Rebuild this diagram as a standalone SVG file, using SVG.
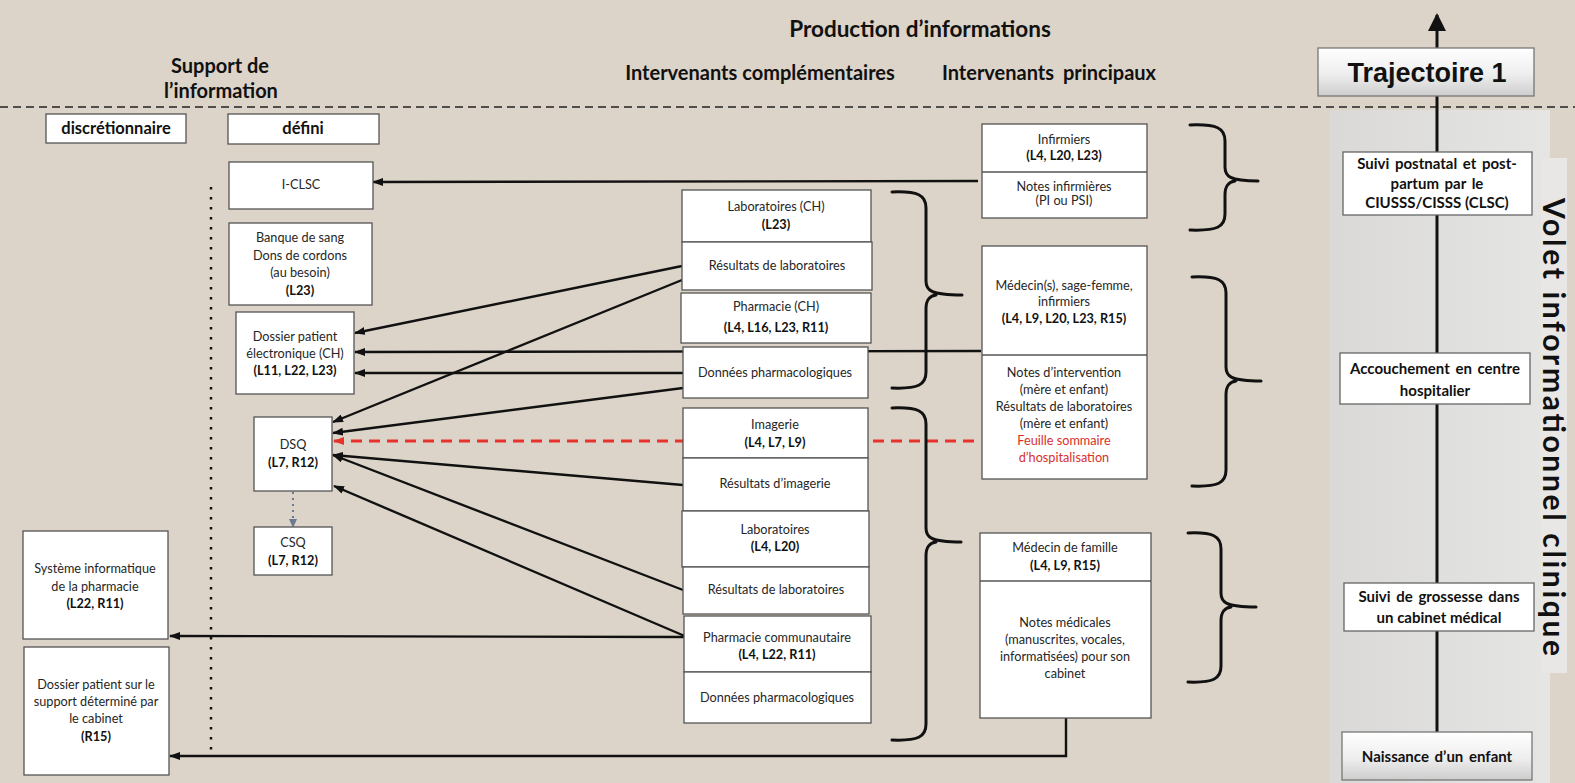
<svg xmlns="http://www.w3.org/2000/svg" width="1575" height="783" viewBox="0 0 1575 783">
<defs>
<linearGradient id="panel" x1="0" y1="0" x2="1" y2="0"><stop offset="0" stop-color="#dad9d7"/><stop offset="1" stop-color="#e5e5e4"/></linearGradient>
<linearGradient id="btn" x1="0" y1="0" x2="0" y2="1"><stop offset="0" stop-color="#ffffff"/><stop offset="0.55" stop-color="#eeeeee"/><stop offset="1" stop-color="#cdcdcd"/></linearGradient>
<marker id="ah" markerWidth="11" markerHeight="8" refX="10" refY="4" orient="auto" markerUnits="userSpaceOnUse"><path d="M0,0 L11,4 L0,8 z" fill="#111"/></marker>
<marker id="ahr" markerWidth="11" markerHeight="8" refX="10" refY="4" orient="auto" markerUnits="userSpaceOnUse"><path d="M0,0 L11,4 L0,8 z" fill="#e5322b"/></marker>
<marker id="ahg" markerWidth="9" markerHeight="8" refX="8" refY="4" orient="auto" markerUnits="userSpaceOnUse"><path d="M0,0 L9,4 L0,8 z" fill="#6b7a8e"/></marker>
<marker id="ahb" markerWidth="18" markerHeight="18" refX="16" refY="9" orient="auto" markerUnits="userSpaceOnUse"><path d="M0,0 L18,9 L0,18 z" fill="#111"/></marker>
<style>
.box{fill:#fff;stroke:#555;stroke-width:1.3}
.tb{fill:#fff;stroke:#666;stroke-width:1.3}
.gb{fill:url(#btn);stroke:#777;stroke-width:1.3}
.t{font-family:Lato,"Open Sans",sans-serif;font-size:12.7px;fill:#262626;text-anchor:middle}
.b{font-weight:700;fill:#111}
.red{fill:#d8302a}
.h{font-family:Lato,"Open Sans",sans-serif;font-weight:700;fill:#111;text-anchor:middle}
.tr{font-family:Lato,"Open Sans",sans-serif;font-weight:700;font-size:15px;fill:#111;text-anchor:middle}
.con{fill:none;stroke:#111;stroke-width:2.4;marker-end:url(#ah)}
.brace{fill:none;stroke:#111;stroke-width:3;stroke-linecap:round}
</style>
</defs>

<rect x="0" y="0" width="1575" height="783" fill="#dcd4c8"/>
<rect x="1330" y="110" width="220" height="673" fill="url(#panel)"/>
<rect x="1541" y="158" width="26" height="515" fill="#e8e7e5"/>

<g id="separators">
<line x1="0" y1="107" x2="1575" y2="107" stroke="#222" stroke-width="1.6" stroke-dasharray="8 5"/>
<line x1="211" y1="187" x2="211" y2="753" stroke="#111" stroke-width="2.5" stroke-dasharray="2.5 7.5"/>
</g>

<g id="headers">
<text class="h" x="920" y="37" font-size="22.5">Production d’informations</text>
<text class="h" x="220" y="73" font-size="20">Support de</text>
<text class="h" x="221" y="98" font-size="20">l’information</text>
<text class="h" x="760" y="80" font-size="20">Intervenants complémentaires</text>
<text class="h" x="1049" y="80" font-size="20" word-spacing="4">Intervenants principaux</text>
<text class="h" x="1543" y="427" font-size="30" textLength="458" transform="rotate(90 1543 427)">Volet informationnel clinique</text>
</g>

<g id="connectors">
<line x1="1437" y1="732" x2="1437" y2="15" stroke="#111" stroke-width="3" marker-end="url(#ahb)"/>
<path class="con" d="M978,181 L373,182"/>
<path class="con" d="M682,266 L355,333"/>
<path class="con" d="M682,280 L333,422"/>
<path class="con" d="M981,351 L355,352"/>
<path class="con" d="M683,373 L355,373"/>
<path class="con" d="M683,388 L333,433"/>
<path d="M974,441 L334,441" fill="none" stroke="#e5322b" stroke-width="3" stroke-dasharray="11 7" marker-end="url(#ahr)"/>
<path class="con" d="M683,485 L333,455"/>
<path class="con" d="M683,590 L333,455"/>
<path class="con" d="M687,637 L334,486"/>
<path class="con" d="M684,637 L170,636"/>
<path class="con" d="M1066,718 L1066,756 L170,756"/>
<path d="M293,492 L293,527" fill="none" stroke="#6b7a8e" stroke-width="2" stroke-dasharray="2 4" marker-end="url(#ahg)"/>
</g>

<g id="braces">
<path class="brace" d="M1190,125 C1217,124 1225,128 1225,141 L1225,167 C1225,176 1229,181 1258,181"/>
<path class="brace" d="M1235,181 C1228,182 1225,186 1225,195 L1225,214 C1225,227 1217,231 1190,230"/>
<path class="brace" d="M1192,277 C1218,276 1226,280 1226,293 L1226,367 C1226,376 1230,381 1261,381"/>
<path class="brace" d="M1236,381 C1229,382 1226,386 1226,395 L1226,470 C1226,483 1218,487 1192,486"/>
<path class="brace" d="M1188,533 C1213,532 1221,536 1221,549 L1221,593 C1221,602 1225,607 1256,607"/>
<path class="brace" d="M1231,607 C1224,608 1221,612 1221,621 L1221,666 C1221,679 1213,683 1188,682"/>
<path class="brace" d="M892,192 C918,191 926,195 926,208 L926,281 C926,290 930,295 962,295"/>
<path class="brace" d="M936,295 C929,296 926,300 926,309 L926,372 C926,385 918,389 892,388"/>
<path class="brace" d="M892,408 C918,407 926,411 926,424 L926,528 C926,537 930,542 961,542"/>
<path class="brace" d="M936,542 C929,543 926,547 926,556 L926,724 C926,737 918,741 892,740"/>
</g>

<g id="discretionnaire"><rect class="box" x="46" y="114" width="140" height="29"/><text class="h" x="116" y="134" font-size="16.5">discrétionnaire</text></g>
<g id="defini"><rect class="box" x="228" y="114" width="151" height="30"/><text class="h" x="303" y="134" font-size="16.5">défini</text></g>
<g id="iclsc"><rect class="box" x="229" y="162" width="144" height="47"/><text class="t" x="301" y="189">I-CLSC</text></g>
<g id="banque"><rect class="box" x="229" y="223" width="143" height="82"/>
<text class="t" x="300" y="242">Banque de sang</text><text class="t" x="300" y="260">Dons de cordons</text><text class="t" x="300" y="277">(au besoin)</text><text class="t b" x="300" y="295">(L23)</text></g>
<g id="dpe"><rect class="box" x="236" y="312" width="118" height="82"/>
<text class="t" x="295" y="341">Dossier patient</text><text class="t" x="295" y="358">électronique (CH)</text><text class="t b" x="295" y="375">(L11, L22, L23)</text></g>
<g id="dsq"><rect class="box" x="254" y="417" width="78" height="74"/>
<text class="t" x="293" y="449">DSQ</text><text class="t b" x="293" y="467">(L7, R12)</text></g>
<g id="csq"><rect class="box" x="254" y="527" width="78" height="48"/>
<text class="t" x="293" y="547">CSQ</text><text class="t b" x="293" y="565">(L7, R12)</text></g>
<g id="sip"><rect class="box" x="23" y="531" width="145" height="108"/>
<text class="t" x="95" y="573">Système informatique</text><text class="t" x="95" y="591">de la pharmacie</text><text class="t b" x="95" y="608">(L22, R11)</text></g>
<g id="dpc"><rect class="box" x="24" y="647" width="145" height="128"/>
<text class="t" x="96" y="689">Dossier patient sur le</text><text class="t" x="96" y="706">support déterminé par</text><text class="t" x="96" y="723">le cabinet</text><text class="t b" x="96" y="741">(R15)</text></g>

<g id="labch"><rect class="box" x="682" y="190" width="189" height="52"/>
<text class="t" x="776" y="211">Laboratoires (CH)</text><text class="t b" x="776" y="229">(L23)</text></g>
<g id="reslabch"><rect class="box" x="682" y="242" width="190" height="48"/><text class="t" x="777" y="270">Résultats de laboratoires</text></g>
<g id="pharmch"><rect class="box" x="681" y="293" width="190" height="50"/>
<text class="t" x="776" y="311">Pharmacie (CH)</text><text class="t b" x="776" y="332">(L4, L16, L23, R11)</text></g>
<g id="donch"><rect class="box" x="683" y="347" width="185" height="51"/><text class="t" x="775" y="377">Données pharmacologiques</text></g>
<g id="imagerie"><rect class="box" x="683" y="408" width="185" height="50"/>
<text class="t" x="775" y="429">Imagerie</text><text class="t b" x="775" y="447">(L4, L7, L9)</text></g>
<g id="resimg"><rect class="box" x="683" y="458" width="185" height="53"/><text class="t" x="775" y="488">Résultats d’imagerie</text></g>
<g id="lab"><rect class="box" x="682" y="511" width="187" height="56"/>
<text class="t" x="775" y="534">Laboratoires</text><text class="t b" x="775" y="551">(L4, L20)</text></g>
<g id="reslab"><rect class="box" x="683" y="567" width="186" height="47"/><text class="t" x="776" y="594">Résultats de laboratoires</text></g>
<g id="pharmcom"><rect class="box" x="684" y="616" width="187" height="56"/>
<text class="t" x="777" y="642">Pharmacie communautaire</text><text class="t b" x="777" y="659">(L4, L22, R11)</text></g>
<g id="doncom"><rect class="box" x="684" y="672" width="187" height="51"/><text class="t" x="777" y="702">Données pharmacologiques</text></g>

<g id="infirmiers"><rect class="box" x="982" y="124" width="165" height="94"/><line x1="982" y1="172" x2="1147" y2="172" stroke="#555" stroke-width="1.3"/>
<text class="t" x="1064" y="144">Infirmiers</text><text class="t b" x="1064" y="160">(L4, L20, L23)</text>
<text class="t" x="1064" y="191">Notes infirmières</text><text class="t" x="1064" y="205">(PI ou PSI)</text></g>
<g id="medecins"><rect class="box" x="982" y="246" width="165" height="233"/><line x1="982" y1="355" x2="1147" y2="355" stroke="#555" stroke-width="1.3"/>
<text class="t" x="1064" y="290">Médecin(s), sage-femme,</text><text class="t" x="1064" y="306">infirmiers</text><text class="t b" x="1064" y="323">(L4, L9, L20, L23, R15)</text>
<text class="t" x="1064" y="377">Notes d’intervention</text><text class="t" x="1064" y="394">(mère et enfant)</text><text class="t" x="1064" y="411">Résultats de laboratoires</text><text class="t" x="1064" y="428">(mère et enfant)</text>
<text class="t red" x="1064" y="445">Feuille sommaire</text><text class="t red" x="1064" y="462">d’hospitalisation</text></g>
<g id="medfam"><rect class="box" x="980" y="533" width="171" height="185"/><line x1="980" y1="581" x2="1151" y2="581" stroke="#555" stroke-width="1.3"/>
<text class="t" x="1065" y="552">Médecin de famille</text><text class="t b" x="1065" y="570">(L4, L9, R15)</text>
<text class="t" x="1065" y="627">Notes médicales</text><text class="t" x="1065" y="644">(manuscrites, vocales,</text><text class="t" x="1065" y="661">informatisées) pour son</text><text class="t" x="1065" y="678">cabinet</text></g>

<g id="trajectoire"><rect class="gb" x="1318" y="48" width="216" height="48"/>
<text x="1427" y="82" font-family="'Liberation Sans',Arial,sans-serif" font-weight="700" font-size="27" fill="#111" text-anchor="middle">Trajectoire 1</text></g>
<g id="postnatal"><rect class="tb" x="1343" y="152" width="189" height="63"/>
<text class="tr" x="1437" y="169" word-spacing="2">Suivi postnatal et post-</text><text class="tr" x="1437" y="189" word-spacing="2">partum par le</text><text class="tr" x="1437" y="208">CIUSSS/CISSS (CLSC)</text></g>
<g id="accouchement"><rect class="tb" x="1340" y="353" width="190" height="51"/>
<text class="tr" x="1435" y="374" word-spacing="2">Accouchement en centre</text><text class="tr" x="1435" y="396">hospitalier</text></g>
<g id="grossesse"><rect class="tb" x="1344" y="583" width="190" height="48"/>
<text class="tr" x="1439" y="602" word-spacing="2">Suivi de grossesse dans</text><text class="tr" x="1439" y="623">un cabinet médical</text></g>
<g id="naissance"><rect class="gb" x="1342" y="732" width="190" height="48"/>
<text class="tr" x="1437" y="762" word-spacing="2">Naissance d’un enfant</text></g>
</svg>
